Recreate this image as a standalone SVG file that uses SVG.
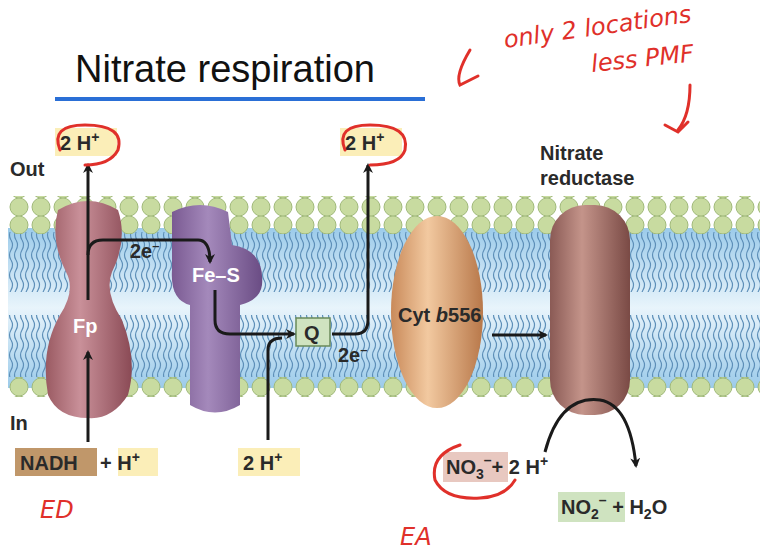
<svg xmlns="http://www.w3.org/2000/svg" width="760" height="552" viewBox="0 0 760 552">
<defs>
<pattern id="heads" x="8" y="0" width="22" height="18" patternUnits="userSpaceOnUse">
<circle cx="11" cy="9" r="9" fill="#c8dba0" stroke="#9fb878" stroke-width="1"/>
</pattern>
<pattern id="tails" x="8" y="0" width="11" height="20" patternUnits="userSpaceOnUse">
<path d="M3 0 q3 5 0 10 q-3 5 0 10 M8 0 q3 5 0 10 q-3 5 0 10" fill="none" stroke="#5d8fb8" stroke-width="1.2"/>
</pattern>
<linearGradient id="blue" x1="0" y1="0" x2="0" y2="1">
<stop offset="0" stop-color="#9ccbea"/><stop offset="0.5" stop-color="#e8f4fb"/><stop offset="1" stop-color="#9ccbea"/>
</linearGradient>
<linearGradient id="fp" x1="0" x2="1"><stop offset="0" stop-color="#9a5a62"/><stop offset="0.4" stop-color="#c99099"/><stop offset="1" stop-color="#8a4a55"/></linearGradient>
<linearGradient id="fes" x1="0" x2="1"><stop offset="0" stop-color="#7a5a92"/><stop offset="0.4" stop-color="#a489bb"/><stop offset="1" stop-color="#6a4c84"/></linearGradient>
<linearGradient id="cyt" x1="0" x2="1"><stop offset="0" stop-color="#c98a5a"/><stop offset="0.4" stop-color="#f2c9a0"/><stop offset="1" stop-color="#b8784a"/></linearGradient>
<linearGradient id="nr" x1="0" x2="1"><stop offset="0" stop-color="#8a5a55"/><stop offset="0.4" stop-color="#c4948a"/><stop offset="1" stop-color="#7a4a45"/></linearGradient>
<marker id="ah" markerWidth="10" markerHeight="10" refX="8" refY="5" orient="auto" markerUnits="userSpaceOnUse"><path d="M0 0 L10 5 L0 10 L3 5 Z" fill="#1a1a1a"/></marker>
<style>
.t{font-family:"Liberation Sans",Arial,sans-serif;font-weight:bold;font-size:20px;fill:#2a2a2a}
.c{fill:none;stroke:#1a1a1a;stroke-width:3}
.hl{fill:#fbeeb8}
.red{fill:none;stroke:#e0302a;stroke-width:3;stroke-linecap:round}
.hw{font-family:"DejaVu Sans",sans-serif;font-style:italic;fill:#e0302a;font-size:24px}
</style>
</defs>
<rect width="760" height="552" fill="#fff"/>
<text x="75" y="82" font-family="Liberation Sans,Arial,sans-serif" font-size="38" fill="#111">Nitrate respiration</text>
<rect x="55" y="97" width="370" height="4" fill="#2a6fd6"/>
<g id="membrane">
<rect x="8" y="228" width="752" height="160" fill="url(#blue)"/>
<rect x="8" y="232" width="752" height="60" fill="url(#tails)"/>
<rect x="8" y="315" width="752" height="62" fill="url(#tails)"/>
<rect x="8" y="196" width="752" height="38" fill="url(#heads)"/>
<rect x="8" y="377" width="752" height="20" fill="url(#heads)"/>
</g>
<text class="t" x="10" y="176" font-size="22">Out</text>
<text class="t" x="10" y="430" font-size="22">In</text>
<g id="fp"><path d="M58 210 Q88 192 118 210 Q128 240 112 272 Q104 292 122 320 Q138 360 128 395 Q112 420 88 418 Q58 418 48 395 Q40 350 60 315 Q76 290 66 272 Q50 240 58 210Z" fill="url(#fp)"/><text class="t" x="73" y="333" style="fill:#fff">Fp</text></g>
<g id="fes"><path d="M172 212 Q200 198 228 212 L232 245 Q265 250 262 285 Q260 300 240 305 L240 405 Q215 420 190 405 L190 305 Q170 300 172 270 Z" fill="url(#fes)"/><text class="t" x="192" y="282" style="fill:#fff">Fe–S</text></g>
<g id="q"><rect x="296" y="318" width="34" height="28" fill="#cfe3c0" stroke="#6a8a5a" stroke-width="1.5"/><text class="t" x="304" y="340">Q</text></g>
<g id="cyt"><ellipse cx="437" cy="312" rx="46" ry="96" fill="url(#cyt)"/><text class="t" x="398" y="322">Cyt <tspan font-style="italic">b</tspan>556</text></g>
<g id="nr"><rect x="550" y="205" width="80" height="210" rx="35" fill="url(#nr)"/></g>
<text class="t" x="540" y="160">Nitrate</text>
<text class="t" x="540" y="185">reductase</text>
<g id="connectors">
<path class="c" d="M88 442 V352" marker-end="url(#ah)"/>
<path class="c" d="M88 300 V165" marker-end="url(#ah)"/>
<path class="c" d="M88 255 Q88 240 103 240 H198 Q210 240 210 262" marker-end="url(#ah)"/>
<path class="c" d="M215 290 V320 Q215 334 230 334 H294" marker-end="url(#ah)"/>
<path class="c" d="M268 440 V350 Q268 338 282 338"/>
<path class="c" d="M332 334 H355 Q368 334 368 320 V165" marker-end="url(#ah)"/>
<path class="c" d="M492 335 H546" marker-end="url(#ah)"/>
<path class="c" d="M545 452 Q560 395 600 400 Q630 405 636 466" marker-end="url(#ah)"/>
</g>
<text class="t" x="130" y="258">2e<tspan dy="-8" font-size="13">–</tspan></text>
<text class="t" x="338" y="362">2e<tspan dy="-8" font-size="13">–</tspan></text>
<rect class="hl" x="55" y="128" width="62" height="28"/><text class="t" x="60" y="150">2 H<tspan dy="-8" font-size="14">+</tspan></text>
<rect class="hl" x="340" y="128" width="62" height="28"/><text class="t" x="345" y="150">2 H<tspan dy="-8" font-size="14">+</tspan></text>
<rect x="15" y="448" width="82" height="28" fill="#c0976a"/><text class="t" x="20" y="470">NADH</text>
<rect class="hl" x="118" y="448" width="40" height="28"/><text class="t" x="100" y="470">+ H<tspan dy="-8" font-size="14">+</tspan></text>
<rect class="hl" x="238" y="448" width="62" height="28"/><text class="t" x="243" y="470">2 H<tspan dy="-8" font-size="14">+</tspan></text>
<rect x="443" y="452" width="65" height="30" fill="#e8c8c0"/><text class="t" x="446" y="474">NO<tspan font-size="14" dy="5">3</tspan><tspan dy="-14" font-size="14">–</tspan><tspan dy="9">+ 2 H</tspan><tspan dy="-8" font-size="14">+</tspan></text>
<rect x="558" y="492" width="67" height="30" fill="#cfe3c0"/><text class="t" x="561" y="514">NO<tspan font-size="14" dy="5">2</tspan><tspan dy="-14" font-size="14">–</tspan><tspan dy="9"> + H</tspan><tspan font-size="14" dy="5">2</tspan><tspan dy="-5">O</tspan></text>
<g id="annotations">
<text class="hw" x="505" y="48" font-size="22" transform="rotate(-8 505 48)">only 2 locations</text>
<text class="hw" x="592" y="72" transform="rotate(-6 592 72)">less PMF</text>
<path class="red" d="M470 50 Q455 75 460 85 Q470 80 478 76"/>
<path class="red" d="M690 85 Q690 115 678 130 M665 125 L678 132 L688 122"/>
<path class="red" d="M60 150 Q50 125 85 125 Q125 125 118 150 Q110 165 85 165"/>
<path class="red" d="M345 150 Q335 125 370 125 Q410 125 405 150 Q400 165 370 165"/>
<path class="red" d="M460 445 Q430 455 435 480 Q445 500 480 498 Q505 497 515 480"/>
<text class="hw" x="40" y="518" font-size="34">ED</text>
<text class="hw" x="400" y="545" font-size="32">EA</text>
</g>
</svg>
